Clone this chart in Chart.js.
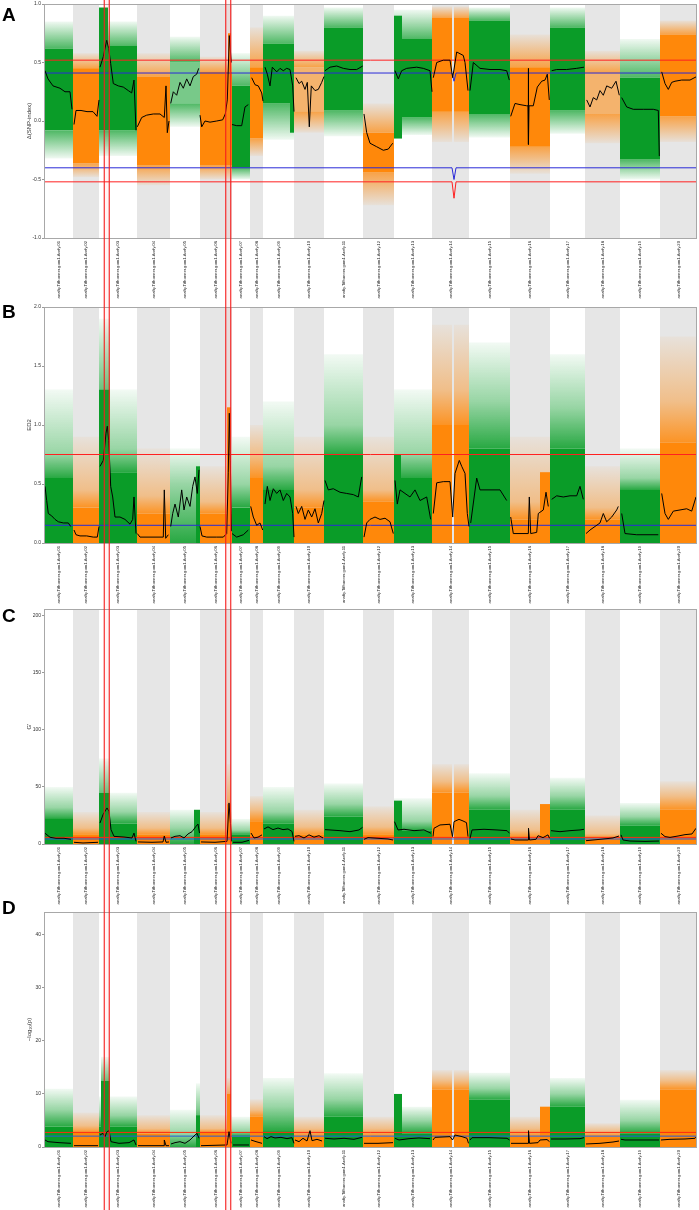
<!DOCTYPE html>
<html>
<head>
<meta charset="utf-8">
<script src="https://cdn.jsdelivr.net/npm/chart.js@4.4.1/dist/chart.umd.min.js"></script>
<style>
  body { margin: 0; background: #fff; width: 699px; height: 1210px; position: relative; overflow: hidden; }
  .panel { position: absolute; left: 0; width: 699px; }
  .tag { position: absolute; left: 2px; font: bold 19px "Liberation Sans", Arial, sans-serif; line-height: 1; color: #000; }
</style>
</head>
<body>
<div class="panel" style="top:0px;height:303px"><canvas id="cA" width="699" height="303"></canvas></div>
<div class="panel" style="top:303px;height:302px"><canvas id="cB" width="699" height="302"></canvas></div>
<div class="panel" style="top:605px;height:300px"><canvas id="cC" width="699" height="300"></canvas></div>
<div class="panel" style="top:905px;height:305px"><canvas id="cD" width="699" height="305"></canvas></div>
<div class="tag" style="top:5px">A</div>
<div class="tag" style="top:302px">B</div>
<div class="tag" style="top:606px">C</div>
<div class="tag" style="top:898px">D</div>
<script>
// chromosome lengths (Mb-ish units) and labels
const chrLen = [29, 26, 38, 33, 30, 32, 18, 13, 31, 30, 39, 31, 38, 37, 41, 40, 35, 35, 40, 37]
const chrLabels = [
  "anafiy.Tifhonner.gom1.Arefy.01", "anafiy.Tifhonner.gom1.Arefy.02", "anafiy.Tifhonner.gom1.Arefy.03",
  "anafiy.Tifhonner.gom1.Arefy.04", "anafiy.Tifhonner.gom1.Arefy.05", "anafiy.Tifhonner.gom1.Arefy.06",
  "anafiy.Tifhonner.gom1.Arefy.07", "anafiy.Tifhonner.gom1.Arefy.08", "anafiy.Tifhonner.gom1.Arefy.09",
  "anafiy.Tifhonner.gom1.Arefy.10", "anafiy.Tifhonner.gom1.Arefy.11", "anafiy.Tifhonner.gom1.Arefy.12",
  "anafiy.Tifhonner.gom1.Arefy.13", "anafiy.Tifhonner.gom1.Arefy.14", "anafiy.Tifhonner.gom1.Arefy.15",
  "anafiy.Tifhonner.gom1.Arefy.16", "anafiy.Tifhonner.gom1.Arefy.17", "anafiy.Tifhonner.gom1.Arefy.18",
  "anafiy.Tifhonner.gom1.Arefy.19", "anafiy.Tifhonner.gom1.Arefy.20"
]
// gap with no markers: [chr, from, to]
const chrGaps = [[14, 20, 22]]
// highlighted candidate regions (genome position)
const highlightRegions = [[60.3, 65.3], [181.7, 186.7]]

// ---- panel A: delta SNP-index ----
const aCoreLo = [-0.08, -0.36, -0.08, -0.38, 0.15, -0.38, -0.40, -0.15, 0.15, 0.08, 0.09, -0.44, 0.03, 0.08, 0.06, -0.22, 0.09, 0.06, -0.33, 0.04]
const aCoreHi = [0.62, 0.45, 0.64, 0.38, 0.50, 0.42, 0.30, 0.46, 0.66, 0.46, 0.80, -0.10, 0.70, 0.88, 0.86, 0.46, 0.80, 0.41, 0.37, 0.74]
const aHaloLo = [-0.32, -0.48, -0.30, -0.55, -0.05, -0.50, -0.50, -0.30, -0.16, -0.10, -0.13, -0.72, -0.12, -0.18, -0.14, -0.45, -0.11, -0.19, -0.50, -0.18]
const aHaloHi = [0.85, 0.58, 0.85, 0.58, 0.72, 0.55, 0.58, 0.80, 0.90, 0.60, 0.97, 0.15, 0.95, 0.98, 0.97, 0.74, 0.97, 0.60, 0.70, 0.86]
const aExtra = [[3, 0, 9, 0.35, 0.97], [6, 28, 31, 0.0, 0.75], [9, 27, 31, -0.10, 0.62], [13, 0, 8, -0.15, 0.90]]
const aLine = [
  [[1, 0.43], [4, 0.36], [9, 0.30], [16, 0.28], [21, 0.25], [26, 0.25], [28, 0.10]],
  [[1, -0.03], [3, 0.09], [8, 0.09], [14, 0.08], [20, 0.08], [24, 0.04], [26, 0.18]],
  [[1, 0.46], [4.3, 0.55], [7.7, 0.69], [9.7, 0.62], [11.7, 0.49], [14.3, 0.32], [19.3, 0.30], [24.3, 0.29], [29.3, 0.26], [32.7, 0.24], [35, 0.35], [37, -0.08]],
  [[0.3, -0.05], [4.7, 0.03], [9.7, 0.05], [16.3, 0.06], [23, 0.06], [27.3, 0.03], [29, 0.30], [30.3, -0.10], [32, 0.0]],
  [[0.7, 0.15], [3.3, 0.25], [6.7, 0.22], [10, 0.33], [13.3, 0.28], [16.7, 0.36], [20, 0.30], [23.3, 0.38], [26.7, 0.40], [28.7, 0.45]],
  [[0, 0.05], [1.7, -0.05], [5, 0.0], [10, -0.01], [16.7, 0.0], [22.7, 0.01], [25.3, 0.06], [27.3, 0.18], [29.3, 0.73], [31.3, 0.50]],
  [[0, -0.03], [4.7, -0.04], [9.7, -0.04], [13, 0.12], [16.3, 0.14]],
  [[1.7, 0.37], [5, 0.31], [8.3, 0.30], [11.7, 0.24], [13, 0.17]],
  [[2, 0.46], [4.3, 0.40], [7, 0.30], [9.3, 0.46], [13.7, 0.42], [17, 0.45], [20.3, 0.43], [23.7, 0.45], [27, 0.44], [29.7, 0.30], [31, 0.08]],
  [[2, 0.37], [5, 0.32], [7.7, 0.34], [11, 0.27], [13.3, 0.33], [15.3, -0.05], [17.3, 0.30], [21, 0.26], [24.3, 0.27], [27.7, 0.33], [30, 0.38]],
  [[1, 0.43], [6, 0.46], [12.7, 0.47], [19.3, 0.45], [26, 0.44], [32.7, 0.44], [38.7, 0.47]],
  [[1, 0.06], [3.7, -0.10], [7, -0.19], [13.7, -0.22], [20.3, -0.25], [25.3, -0.24], [29.7, -0.19]],
  [[1, 0.43], [4.3, 0.36], [7.7, 0.43], [12.7, 0.45], [22.7, 0.46], [29.3, 0.45], [36, 0.43], [38, 0.25]],
  [[1.3, 0.37], [4.7, 0.50], [11.3, 0.52], [18, 0.52], [20.7, 0.37], [24.7, 0.59], [31.3, 0.56], [33, 0.50], [36, 0.26]],
  [[1, 0.26], [4.3, 0.50], [11, 0.45], [21, 0.44], [31, 0.44], [37.7, 0.43], [40.3, 0.35]],
  [[0.7, 0.04], [5, 0.15], [10, 0.14], [16.7, 0.13], [18, 0.13], [18.3, 0.45], [18.6, -0.20], [19, 0.13], [23.3, 0.13], [27.3, 0.29], [31.7, 0.34], [35, 0.35], [37.3, 0.40], [39.3, 0.18]],
  [[1.7, 0.43], [6.7, 0.44], [16.7, 0.44], [26.7, 0.45], [34, 0.46]],
  [[1.7, 0.18], [5, 0.12], [8.3, 0.20], [11.7, 0.18], [15, 0.26], [18.3, 0.22], [21.7, 0.30], [26.7, 0.28], [31, 0.34], [34.3, 0.22]],
  [[1.7, 0.20], [6.7, 0.12], [13.3, 0.10], [23.3, 0.10], [33.3, 0.10], [38.3, 0.09], [39.3, -0.30]],
  [[1.7, 0.42], [5, 0.32], [8.3, 0.27], [11.7, 0.33], [15, 0.34], [21.7, 0.35], [30, 0.35], [36.7, 0.38]]
]
const aRedHi = [[0, 0.52], [653, 0.52]]
const aBlueHi = [[0, 0.41], [408, 0.41], [410, 0.34], [412, 0.41], [653, 0.41]]
const aBlueLo = [[0, -0.40], [408, -0.40], [410, -0.50], [412, -0.40], [653, -0.40]]
const aRedLo = [[0, -0.52], [408, -0.52], [410, -0.66], [412, -0.52], [653, -0.52]]

// ---- panel B: ED ----
const bDense = [0.55, 0.30, 0.60, 0.25, 0.00, 0.25, 0.30, 0.55, 0.45, 0.30, 0.75, 0.35, 0.55, 1.00, 0.80, 0.20, 0.80, 0.20, 0.45, 0.85]
const bMid = [0.75, 0.45, 0.80, 0.40, 0.50, 0.35, 0.50, 0.75, 0.65, 0.45, 1.00, 0.45, 0.75, 1.30, 1.20, 0.35, 1.15, 0.30, 0.55, 1.20]
const bSparse = [1.30, 0.90, 1.30, 0.80, 0.80, 0.65, 0.90, 1.00, 1.20, 0.90, 1.60, 0.90, 1.30, 1.85, 1.70, 0.90, 1.60, 0.65, 0.80, 1.75]
const bExtra = [[3, 0, 11, 0, 1.30], [5, 26, 30, 0, 0.65], [6, 27, 31, 0, 1.15], [13, 0, 7, 0, 0.75], [16, 30, 40, 0, 0.60]]
const bExtraSparse = [[3, 0, 11, 1.30, 1.90]]
const bLine = [
  [[1, 0.48], [2.7, 0.36], [4.3, 0.25], [7.7, 0.23], [11, 0.20], [14.3, 0.18], [19.3, 0.17], [24.3, 0.17], [26.7, 0.14]],
  [[1, 0.11], [3, 0.07], [7, 0.06], [13.7, 0.06], [20.3, 0.05], [24.3, 0.05], [26, 0.14]],
  [[1, 0.65], [4.3, 0.70], [7, 0.93], [8.3, 0.99], [9.7, 0.87], [11.7, 0.48], [13.7, 0.39], [16, 0.22], [21, 0.22], [26, 0.20], [31, 0.16], [33.7, 0.20], [35, 0.39], [37, 0.08]],
  [[0.3, 0.08], [3, 0.05], [13, 0.05], [23, 0.05], [26.3, 0.05], [27.3, 0.45], [28.7, 0.04], [31.3, 0.07]],
  [[0.7, 0.14], [2.7, 0.25], [5, 0.33], [8.3, 0.22], [11.7, 0.45], [14, 0.28], [16.7, 0.39], [20, 0.31], [22.7, 0.48], [25, 0.56], [27.3, 0.42], [29, 0.62]],
  [[0, 0.14], [2, 0.06], [6.7, 0.05], [16.7, 0.05], [23.3, 0.05], [26.7, 0.08], [28.3, 0.60], [29.3, 1.10], [30.3, 0.70], [31.5, 0.10]],
  [[0, 0.08], [4.7, 0.05], [11.3, 0.07], [16.3, 0.11]],
  [[0.7, 0.31], [3.3, 0.22], [6.7, 0.15], [10, 0.17], [12.7, 0.11]],
  [[2, 0.33], [4.3, 0.48], [7, 0.36], [10.3, 0.46], [13.7, 0.42], [17, 0.45], [20.3, 0.36], [23.7, 0.42], [27, 0.39], [29.7, 0.25], [31, 0.05]],
  [[2, 0.31], [4.3, 0.25], [7.7, 0.31], [11, 0.20], [14.3, 0.28], [17.7, 0.22], [21, 0.29], [24.3, 0.17], [27.7, 0.25], [30, 0.36]],
  [[1, 0.53], [4.3, 0.45], [9.3, 0.46], [16, 0.43], [22.7, 0.42], [29.3, 0.41], [34.3, 0.39], [37.7, 0.56]],
  [[1, 0.05], [3.7, 0.17], [7, 0.20], [12, 0.22], [17, 0.20], [22, 0.21], [27, 0.18], [30.3, 0.08]],
  [[1, 0.53], [3.3, 0.33], [6, 0.45], [11, 0.42], [16, 0.39], [21, 0.45], [26, 0.36], [32.7, 0.39], [36.7, 0.20]],
  [[1.3, 0.25], [4.7, 0.51], [11.3, 0.52], [18, 0.52], [20.7, 0.22], [23, 0.59], [27.3, 0.70], [29.7, 0.65], [33, 0.59], [35.3, 0.25], [37, 0.14]],
  [[1.7, 0.17], [7.7, 0.55], [11, 0.45], [21, 0.45], [31, 0.45], [37.7, 0.36]],
  [[0.7, 0.22], [3.3, 0.08], [10, 0.08], [18.3, 0.08], [19.3, 0.39], [20.7, 0.08], [26.7, 0.09], [28.3, 0.25], [33.3, 0.28], [36, 0.43], [38.3, 0.31]],
  [[1.7, 0.37], [6.7, 0.40], [13.3, 0.39], [20, 0.40], [26.7, 0.40], [30, 0.48], [33.3, 0.37]],
  [[1, 0.08], [5, 0.11], [10, 0.14], [15, 0.17], [18.3, 0.25], [21.7, 0.18], [26.7, 0.22], [31.7, 0.28], [33.3, 0.31]],
  [[1.7, 0.25], [5, 0.08], [16.7, 0.07], [30, 0.07], [38.3, 0.07]],
  [[1.7, 0.42], [5, 0.25], [8.3, 0.20], [13.3, 0.27], [20, 0.28], [26.7, 0.29], [31.7, 0.27], [36, 0.39]]
]
const bRed = [[0, 0.75], [653, 0.75]]
const bBlue = [[0, 0.15], [653, 0.15]]

// ---- panel C: G' ----
const cDense = [22, 8, 18, 8, 0, 8, 8, 20, 18, 8, 24, 8, 12, 45, 30, 6, 30, 5, 16, 30]
const cMid = [32, 14, 28, 14, 14, 14, 12, 30, 28, 15, 35, 15, 20, 55, 42, 12, 42, 9, 24, 42]
const cSparse = [50, 28, 45, 28, 30, 28, 22, 42, 50, 30, 53, 33, 40, 70, 62, 30, 58, 25, 36, 55]
const cExtra = [[3, 0, 11, 0, 45], [5, 24, 30, 0, 30], [6, 27, 31, 0, 35], [13, 0, 8, 0, 38], [16, 30, 40, 0, 35]]
const cExtraSparse = [[3, 0, 11, 45, 75], [6, 27, 31, 35, 70]]
const cLine = [
  [[1, 9.4], [3, 8.0], [6, 5.9], [12, 5.0], [20, 5.0], [27, 4.1]],
  [[1, 1.5], [10, 0.9], [25, 1.5]],
  [[1, 18.4], [4, 25.7], [8, 31.6], [10, 28.6], [12, 12.6], [15, 6.7], [25, 6.1], [33, 5.3], [35, 9.6], [37, 2.3]],
  [[1, 1.8], [15, 1.5], [26, 1.8], [27.3, 7.0], [29, 1.5], [32, 1.8]],
  [[1, 5.3], [5, 6.7], [10, 7.3], [14, 5.3], [18, 8.8], [22, 10.8], [26, 15.5], [28, 17.5], [29.5, 9.6]],
  [[1, 1.8], [15, 1.5], [27, 2.3], [29, 36], [30.5, 18], [31.5, 2.3]],
  [[1, 1.5], [10, 1.5], [17, 3.2]],
  [[1, 9.6], [4, 5.3], [8, 6.0], [12, 8.0]],
  [[1, 13.2], [5, 15.0], [10, 12.6], [15, 14.0], [20, 12.6], [25, 13.2], [29, 11.0], [31, 2.3]],
  [[1, 6.7], [5, 7.3], [10, 5.3], [15, 8.0], [20, 6.0], [25, 7.3], [29, 5.3]],
  [[1, 12.6], [6, 12.3], [16, 11.7], [26, 10.8], [35, 12.3], [38.5, 14.6]],
  [[1, 4.1], [5, 5.6], [15, 5.0], [25, 4.4], [30, 3.5]],
  [[0.5, 19.6], [4, 12.3], [10, 12.9], [20, 11.7], [30, 12.3], [37, 9.4]],
  [[1, 6.5], [2, 13.8], [8, 16.7], [18, 17.3], [20.5, 6.5], [22, 19.6], [27, 21.6], [31, 20.2], [34.5, 18.7], [36, 6.5]],
  [[1, 5.0], [3, 12.3], [15, 12.9], [28, 12.3], [38, 11.7], [40.5, 9.4]],
  [[1, 4.4], [5, 3.5], [18, 3.5], [18.5, 13.8], [19.5, 3.5], [26, 4.1], [28, 7.3], [33, 5.6], [38, 8.0], [39.5, 5.0]],
  [[1, 11.7], [10, 10.8], [20, 11.7], [30, 12.3], [34, 12.9]],
  [[1, 2.9], [8, 3.5], [15, 4.1], [22, 4.7], [28, 5.3], [34, 7.0]],
  [[1, 8.0], [3, 3.5], [10, 2.6], [25, 2.3], [39, 2.6]],
  [[1, 9.4], [5, 6.5], [10, 5.8], [18, 7.0], [25, 8.2], [32, 8.8], [36, 13.8]]
]
const cRed = [[0, 5.8], [653, 5.8]]
const cBlue = [[0, 4.4], [653, 4.4]]

// ---- panel D: -log10(p) ----
const dDense = [3.8, 2.7, 3.8, 2.5, 0, 2.7, 2.0, 5.7, 3.0, 2.0, 5.7, 2.0, 2.6, 10.8, 8.9, 2.0, 7.6, 2.0, 2.6, 10.8]
const dMid = [7, 4, 6, 3.5, 2.5, 3.5, 3, 7, 7.6, 3.5, 9, 3.5, 5, 12.5, 11, 3.5, 10, 3, 5, 12.5]
const dSparse = [11, 6.5, 9.5, 6, 7, 6, 5.7, 9, 13, 5.7, 13.9, 5.7, 7.6, 14.5, 14, 5.7, 13, 4.5, 8.9, 14.5]
const dExtra = [[3, 2, 11, 0, 12.5], [5, 26, 30, 0, 6], [6, 27, 31, 0, 10], [13, 0, 8, 0, 10], [16, 30, 40, 0, 7.6]]
const dExtraSparse = [[3, 2, 11, 12.5, 17], [5, 26, 30, 6, 12], [6, 27, 31, 10, 13]]
const dLine = [
  [[1, 1.32], [4, 1.0], [15, 0.82], [27, 0.69]],
  [[1, 0.25], [25, 0.25]],
  [[1, 2.26], [4, 2.58], [6, 1.95], [8, 2.89], [10, 3.08], [12, 1.0], [20, 0.69], [30, 0.82], [35, 1.32], [37, 0.38]],
  [[1, 0.25], [27, 0.25], [27.3, 1.32], [29, 0.25], [32, 0.25]],
  [[1, 0.57], [5, 0.82], [10, 1.0], [15, 0.69], [20, 1.32], [25, 2.26], [27, 2.58], [29, 1.64]],
  [[1, 0.25], [27, 0.38], [29, 2.89], [31, 0.69]],
  [[1, 0.38], [17, 0.38]],
  [[1, 1.32], [6, 1.01], [12, 0.69]],
  [[1, 1.95], [4, 1.57], [8, 1.95], [12, 1.70], [18, 1.82], [24, 1.57], [29, 1.76], [31, 0.69]],
  [[1, 1.32], [5, 1.01], [9, 1.64], [13, 1.13], [16, 3.08], [18, 1.19], [23, 1.45], [28, 1.13]],
  [[1, 1.64], [10, 1.51], [20, 1.64], [30, 1.45], [38, 1.82]],
  [[1, 0.69], [15, 0.69], [30, 0.82]],
  [[1, 1.64], [5, 1.32], [15, 1.57], [25, 1.70], [36, 1.57]],
  [[1, 1.32], [3, 1.82], [18, 1.95], [20.5, 1.32], [23, 2.26], [30, 1.95], [35, 1.64], [36.5, 0.69]],
  [[1, 1.32], [3, 1.76], [20, 1.76], [38, 1.64], [40.5, 1.32]],
  [[1, 0.69], [18, 0.69], [18.5, 3.08], [19.5, 0.69], [28, 0.82], [30, 1.32], [37, 1.40], [39.5, 1.01]],
  [[1, 1.51], [15, 1.51], [30, 1.57], [34, 1.76]],
  [[1, 0.57], [15, 0.69], [28, 0.94], [34, 1.13]],
  [[1, 1.45], [5, 1.32], [20, 1.32], [39, 1.32]],
  [[1, 1.32], [10, 1.45], [25, 1.51], [35, 1.64], [36.5, 1.95]]
]
const dRed = [[0, 2.75], [653, 2.75]]
const dBlue = [[0, 2.05], [653, 2.05]]

/** helpers */
const GREEN = [10, 156, 40]
const ORANGE = [255, 136, 10]
const chrStart = chrLen.map((l, i) => chrLen.slice(0, i).reduce((a, b) => a + b, 0))
const chrMid = chrLen.map((l, i) => chrStart[i] + l / 2)
const genomeLen = chrLen.reduce((a, b) => a + b, 0)

Chart.defaults.font.family = 'Arial, "Liberation Sans", sans-serif'

const rgba = (c, a) => `rgba(${c[0]},${c[1]},${c[2]},${a})`
const colorOf = (chr) => chr % 2 ? GREEN : ORANGE

function pieces(chr, from, to) {
  let segs = [[from, to]]
  for (const [c, g0, g1] of chrGaps) {
    if (c !== chr) continue
    segs = segs.flatMap(([a, b]) => (g1 <= a || g0 >= b) ? [[a, b]] : [[a, g0], [g1, b]].filter(s => s[1] > s[0]))
  }
  return segs
}

// fade: list of [value, alpha] stops, turned into a vertical gradient through the y scale
function fill(chr, stops) {
  const col = colorOf(chr)
  if (stops.length === 1) return rgba(col, stops[0][1])
  return (context) => {
    const chart = context.chart
    if (!chart.chartArea) return rgba(col, stops[0][1])
    const y = chart.scales.y
    const p0 = y.getPixelForValue(stops[0][0]), p1 = y.getPixelForValue(stops[stops.length - 1][0])
    if (Math.abs(p1 - p0) < 0.5) return rgba(col, stops[0][1])
    const g = chart.ctx.createLinearGradient(0, p0, 0, p1)
    for (const [v, a] of stops) g.addColorStop(Math.min(1, Math.max(0, (y.getPixelForValue(v) - p0) / (p1 - p0))), rgba(col, a))
    return g
  }
}

function band(chr, from, to, lo, hi, stops, order) {
  if (hi <= lo) return []
  return pieces(chr, from, to).map(([a, b]) => ({
    type: "line",
    data: [{ x: chrStart[chr - 1] + a, y: hi }, { x: chrStart[chr - 1] + b, y: hi }],
    fill: { value: lo },
    backgroundColor: fill(chr, stops),
    borderWidth: 0, pointRadius: 0, order
  }))
}

function lineSet(perChr) {
  const pts = []
  perChr.forEach((list, i) => {
    for (const [p, v] of list) pts.push({ x: chrStart[i] + p, y: v })
    pts.push({ x: chrStart[i] + chrLen[i], y: null })
  })
  return { type: "line", data: pts, borderColor: "#000", borderWidth: 1, pointRadius: 0, spanGaps: false, fill: false, order: 0 }
}

function threshold(pairs, color) {
  return { type: "line", data: pairs.map(([x, y]) => ({ x, y })), borderColor: color, borderWidth: 1, pointRadius: 0, fill: false, order: 1 }
}

const panelPlugin = {
  id: "panelDeco",
  beforeDatasetsDraw(chart) {
    const { ctx, chartArea: a, scales: { x } } = chart
    ctx.save()
    ctx.fillStyle = "#e6e6e6"
    chrLen.forEach((l, i) => {
      if (i % 2 === 0) return
      const x0 = x.getPixelForValue(chrStart[i]), x1 = x.getPixelForValue(chrStart[i] + l)
      ctx.fillRect(x0, a.top, x1 - x0, a.bottom - a.top)
    })
    ctx.restore()
  },
  afterDraw(chart) {
    const { ctx, chartArea: a, scales: { x } } = chart
    ctx.save()
    ctx.strokeStyle = "#a8a8a8"
    ctx.lineWidth = 1
    ctx.strokeRect(a.left + 0.5, a.top + 0.5, a.right - a.left - 1, a.bottom - a.top)
    for (const [r0, r1] of highlightRegions) {
      const x0 = x.getPixelForValue(r0), x1 = x.getPixelForValue(r1)
      ctx.fillStyle = "rgba(255,60,60,0.06)"
      ctx.fillRect(x0, 0, x1 - x0, chart.height)
      ctx.strokeStyle = "rgba(245,30,30,0.85)"
      ctx.lineWidth = 1.3
      ctx.beginPath()
      ctx.moveTo(x0, 0); ctx.lineTo(x0, chart.height)
      ctx.moveTo(x1, 0); ctx.lineTo(x1, chart.height)
      ctx.stroke()
    }
    ctx.restore()
  }
}

function makePanel(id, p) {
  const datasets = []
  chrLen.forEach((len, i) => {
    const chr = i + 1
    const coreA = p.sparseChr.includes(chr) ? 0.55 : 1
    if (p.haloLo) {
      // two-sided cloud: fade above and below the dense core
      datasets.push(...band(chr, 0, len, p.core[i], p.halo[i], [[p.core[i], 0.72], [p.halo[i], 0.06]], 6))
      datasets.push(...band(chr, 0, len, p.haloLo[i], p.coreLo[i], [[p.coreLo[i], 0.72], [p.haloLo[i], 0.06]], 6))
      datasets.push(...band(chr, 0, len, p.coreLo[i], p.core[i], [[0, coreA]], 4))
    } else {
      // one-sided cloud from zero: fade from core through mid to sparse top
      const base = p.core[i]
      datasets.push(...band(chr, 0, len, base, p.halo[i], [[base, 0.88], [p.mid[i], 0.42], [p.halo[i], 0.05]], 6))
      datasets.push(...band(chr, 0, len, 0, base, [[0, coreA]], 4))
    }
  })
  for (const [c, f, t, lo, hi] of p.extra) datasets.push(...band(c, f, t, lo, hi, [[0, 1]], 4))
  for (const [c, f, t, lo, hi] of (p.extraSparse || [])) datasets.push(...band(c, f, t, lo, hi, [[lo, 0.6], [hi, 0.05]], 6))
  for (const [pairs, color] of p.thresholds) datasets.push(threshold(pairs, color))
  datasets.push(lineSet(p.line))

  return new Chart(document.getElementById(id), {
    type: "line",
    data: { datasets },
    plugins: [panelPlugin],
    options: {
      responsive: false, animation: false, events: [],
      layout: { padding: { top: p.padTop, right: 2, left: 24, bottom: 0 } },
      plugins: { legend: { display: false }, tooltip: { enabled: false } },
      scales: {
        x: {
          type: "linear", min: 0, max: genomeLen,
          afterBuildTicks: s => { s.ticks = chrMid.map(v => ({ value: v })) },
          afterFit: s => { s.height = p.axisH },
          ticks: { autoSkip: false, minRotation: 90, maxRotation: 90, padding: 3, color: "#222", font: { size: 4.2 }, callback: (v, i) => chrLabels[i] },
          grid: { display: false, drawTicks: false },
          border: { display: false }
        },
        y: {
          min: p.yMin, max: p.yMax,
          afterBuildTicks: s => { s.ticks = p.yTicks.map(v => ({ value: v })) },
          afterFit: s => { s.width = 20 },
          ticks: { padding: 1, color: "#333", font: { size: 5 }, callback: v => p.fmt(v) },
          grid: { drawOnChartArea: false, tickLength: 2, color: "#999" },
          border: { display: false },
          title: { display: true, text: p.title, color: "#333", font: { size: 6 }, padding: { top: 2, bottom: 0 } }
        }
      }
    }
  })
}

makePanel("cA", {
  padTop: 3, axisH: 65, yMin: -1, yMax: 1, yTicks: [-1, -0.5, 0, 0.5, 1], fmt: v => v.toFixed(1), title: "Δ(SNP-index)",
  core: aCoreHi, coreLo: aCoreLo, halo: aHaloHi, haloLo: aHaloLo, sparseChr: [5, 10, 18],
  extra: aExtra, line: aLine,
  thresholds: [[aRedHi, "#ff2020"], [aBlueHi, "#2a2ad8"], [aBlueLo, "#2a2ad8"], [aRedLo, "#ff2020"]]
})
makePanel("cB", {
  padTop: 4, axisH: 62, yMin: 0, yMax: 2, yTicks: [0, 0.5, 1, 1.5, 2], fmt: v => v.toFixed(1), title: "ED2",
  core: bDense, mid: bMid, halo: bSparse, sparseChr: [5],
  extra: bExtra, extraSparse: bExtraSparse, line: bLine,
  thresholds: [[bRed, "#ff2020"], [bBlue, "#2a2ad8"]]
})
makePanel("cC", {
  padTop: 4, axisH: 61, yMin: 0, yMax: 206, yTicks: [0, 50, 100, 150, 200], fmt: v => String(v), title: "G'",
  core: cDense, mid: cMid, halo: cSparse, sparseChr: [5],
  extra: cExtra, extraSparse: cExtraSparse, line: cLine,
  thresholds: [[cRed, "#ff2a10"], [cBlue, "#2a5ad8"]]
})
makePanel("cD", {
  padTop: 7, axisH: 63, yMin: 0, yMax: 44.3, yTicks: [0, 10, 20, 30, 40], fmt: v => String(v), title: "−log₁₀(p)",
  core: dDense, mid: dMid, halo: dSparse, sparseChr: [5],
  extra: dExtra, extraSparse: dExtraSparse, line: dLine,
  thresholds: [[dRed, "#ff2a10"], [dBlue, "#2a5ad8"]]
})
</script>
</body>
</html>
